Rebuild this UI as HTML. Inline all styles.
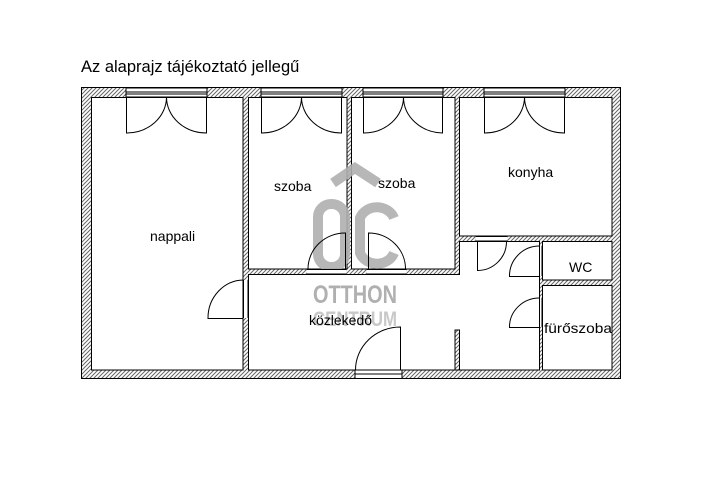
<!DOCTYPE html>
<html><head><meta charset="utf-8"><style>
html,body{margin:0;padding:0;background:#fff;}
svg{display:block}
text{font-family:"Liberation Sans","DejaVu Sans",sans-serif;}
</style></head><body>
<svg width="710" height="494" viewBox="0 0 710 494" xmlns="http://www.w3.org/2000/svg">
<defs>
<pattern id="h" width="4" height="4" patternUnits="userSpaceOnUse">
<rect width="4" height="4" fill="#fff"/>
<path d="M-1,5 L5,-1 M-1,1 L1,-1 M3,5 L5,3" stroke="#666" stroke-width="1"/>
</pattern>
</defs>
<text x="81" y="72" font-size="16.5" fill="#000">Az alaprajz tájékoztató jellegű</text>
<rect x="81.5" y="87.5" width="539" height="291" fill="url(#h)" stroke="#000"/>
<g fill="#fff" stroke="#000">
<rect x="91.5" y="97.5" width="151.5" height="272.5"/>
<rect x="248.5" y="97.5" width="98.5" height="171.5"/>
<rect x="351.5" y="97.5" width="103.5" height="171.5"/>
<rect x="459.5" y="97.5" width="152.5" height="138.5"/>
<polygon points="248.5,274.5 459.5,274.5 459.5,241.5 539.5,241.5 539.5,370 248.5,370"/>
<rect x="542.5" y="241.5" width="69.5" height="38.5"/>
<rect x="542.5" y="285.5" width="69.5" height="84.5"/>
</g>
<rect x="455" y="330" width="4.5" height="40" fill="url(#h)" stroke="#000"/>
<!-- watermark -->
<g fill="none" stroke="#b0b0b0" stroke-width="10" opacity="0.9">
<path d="M333,183 L355,168 L378,183"/>
<rect x="318" y="204" width="27" height="63" rx="13"/>
<path d="M394,218 A18,16 0 0 0 360,218 L360,253 A18,16 0 0 0 394,253"/>
</g>
<text x="355" y="303" font-size="25" font-weight="bold" fill="#b0b0b0" text-anchor="middle" textLength="84" lengthAdjust="spacingAndGlyphs">OTTHON</text>
<text x="355" y="326" font-size="21" font-weight="bold" fill="#c8c8c8" text-anchor="middle" textLength="84" lengthAdjust="spacingAndGlyphs">CENTRUM</text>
<!-- windows -->
<g fill="#fff" stroke="#000" stroke-width="1">
<rect x="126" y="88" width="81" height="9"/>
<rect x="261" y="88" width="81" height="9"/>
<rect x="363" y="88" width="80" height="9"/>
<rect x="484" y="88" width="81" height="9"/>
<rect x="355" y="370" width="47" height="8.5"/>
</g>
<g stroke="#000" stroke-width="1">
<line x1="126" y1="92" x2="207" y2="92"/><line x1="126" y1="94" x2="207" y2="94"/>
<line x1="261" y1="92" x2="342" y2="92"/><line x1="261" y1="94" x2="342" y2="94"/>
<line x1="363" y1="92" x2="443" y2="92"/><line x1="363" y1="94" x2="443" y2="94"/>
<line x1="484" y1="92" x2="565" y2="92"/><line x1="484" y1="94" x2="565" y2="94"/>
<line x1="355" y1="374" x2="402" y2="374"/>
</g>
<!-- door gaps -->
<g fill="#fff" stroke="none">
<rect x="243.5" y="280" width="4.5" height="38"/>
<rect x="307" y="269.5" width="39" height="4.5"/>
<rect x="367" y="269.5" width="39" height="4.5"/>
<rect x="476" y="236.5" width="31" height="4.5"/>
<rect x="540" y="246" width="2" height="30"/>
<rect x="540" y="298" width="2" height="29"/>
</g>
<g fill="none" stroke="#000" stroke-width="1">
<path d="M126.5,97 V133 A40,36 0 0 0 166.5,97 M206.5,97 V133 A40,36 0 0 1 166.5,97"/>
<path d="M261.5,97 V133 A40,36 0 0 0 301.5,97 M341.5,97 V133 A40,36 0 0 1 301.5,97"/>
<path d="M363.5,97 V133 A40,36 0 0 0 403.5,97 M442.5,97 V133 A40,36 0 0 1 403.5,97"/>
<path d="M484.5,97 V133 A40,36 0 0 0 524.5,97 M564.5,97 V133 A40,36 0 0 1 524.5,97"/>
<path d="M243.5,318.5 H208 A36,38 0 0 1 243.5,280"/>
<line x1="243.5" y1="280" x2="243.5" y2="318"/><line x1="248" y1="280" x2="248" y2="318"/>
<path d="M345.5,269.5 V233 A37,36 0 0 0 308,269.5"/>
<line x1="307" y1="269.5" x2="346" y2="269.5"/><line x1="307" y1="274" x2="346" y2="274"/>
<path d="M368.5,269.5 V233 A37,36 0 0 1 405.5,269.5"/>
<line x1="367" y1="269.5" x2="406" y2="269.5"/><line x1="367" y1="274" x2="406" y2="274"/>
<path d="M400.5,370 V327 A45,43 0 0 0 355.5,370"/>
<path d="M477.5,241 V270.5 A29,29 0 0 0 506.5,241"/>
<line x1="476" y1="236.5" x2="507" y2="236.5"/><line x1="476" y1="241" x2="507" y2="241"/>
<path d="M539.5,276.5 H509.5 A30,30 0 0 1 539.5,246"/>
<line x1="542" y1="246" x2="542" y2="276"/>
<path d="M539.5,327.5 H509.5 A30,29 0 0 1 539.5,298"/>
<line x1="542" y1="298" x2="542" y2="327"/>
</g>
<g font-size="14" fill="#000">
<text x="150" y="241">nappali</text>
<text x="274" y="191">szoba</text>
<text x="378" y="188">szoba</text>
<text x="508" y="177">konyha</text>
<text x="569" y="272">WC</text>
<text x="544" y="333" textLength="68" lengthAdjust="spacingAndGlyphs">fürőszoba</text>
<text x="309" y="325">közlekedő</text>
</g>
</svg>
</body></html>
